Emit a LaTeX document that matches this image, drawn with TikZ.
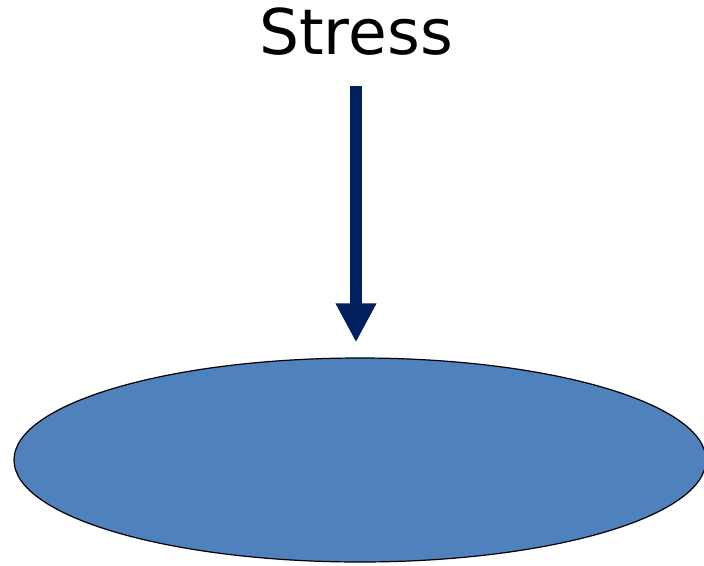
\documentclass[tikz,border=0pt]{standalone}
\usepackage{fontspec}
\setmainfont{DejaVu Sans}
\usetikzlibrary{arrows.meta,shapes.geometric}
\definecolor{navy}{HTML}{002060}
\definecolor{bodyblue}{HTML}{4F81BD}
\begin{document}
\begin{tikzpicture}[x=1pt,y=-1pt]
\tikzstyle{every node}=[font=\fontsize{63pt}{75pt}\selectfont]
\tikzstyle{load}=[draw=navy, line width=12pt, -{Triangle[width=38pt,length=39pt]}]
\useasboundingbox (0,0) rectangle (704,565);
\node [anchor=base, inner sep=0pt] (stress) at (356,54) {Stress};
\node [ellipse, draw=black, line width=1.2pt, fill=bodyblue, minimum width=692pt, minimum height=204pt, inner sep=0pt] (body) at (360,460) {};
\draw [load, shorten <=31pt, shorten >=15pt] (stress.south) -- (stress.south |- body.north);
\end{tikzpicture}
\end{document}
